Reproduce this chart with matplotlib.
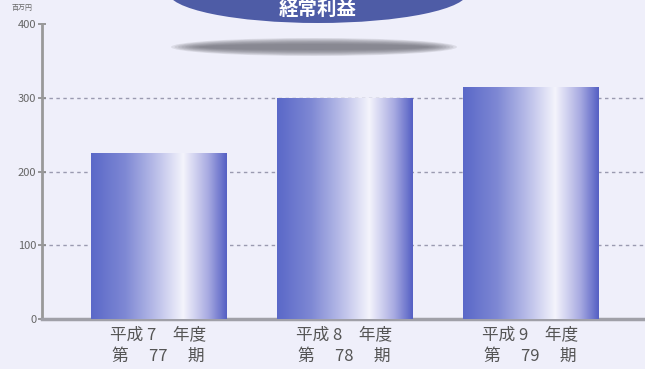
import numpy as np
import matplotlib
matplotlib.use("Agg")
import matplotlib.pyplot as plt
from matplotlib.patches import Ellipse
from matplotlib.colors import LinearSegmentedColormap

plt.rcParams['font.family'] = ['Noto Sans CJK JP', 'DejaVu Sans']

# 経常利益 (百万円)
periods = ["平成 7　年度\n第　 77 　期", "平成 8　年度\n第　 78 　期", "平成 9　年度\n第　 79 　期"]
profit = [225, 300, 315]
yticks = [0, 100, 200, 300, 400]

bg = "#efeffa"
fig = plt.figure(figsize=(6.45, 3.69), dpi=100, facecolor=bg)
ax = fig.add_axes([42/645, 50/369, 603/645, 295/369])
ax.set_facecolor(bg)

# 左から右へのグラデーション (青→白→青)
bar_cmap = LinearSegmentedColormap.from_list(
    "bar", [(0.0, "#5a68c8"), (0.25, "#7e88d4"), (0.47, "#b8bce8"),
            (0.68, "#f4f4fc"), (0.86, "#aaace2"), (1.0, "#5560c4")])
grad = np.linspace(0, 1, 256).reshape(1, -1)

width = 0.726
x = np.arange(len(profit))
bars = ax.bar(x, profit, width=width, color="none", zorder=3)
for b in bars:
    x0, y0 = b.get_x(), b.get_y()
    im = ax.imshow(grad, cmap=bar_cmap, aspect="auto", zorder=3,
                   extent=[x0, x0 + b.get_width(), y0, y0 + b.get_height()])
    im.set_clip_path(b)

ax.set_xlim(-0.626, 2.616)
ax.set_ylim(0, 400)
ax.set_yticks(yticks)
ax.set_yticklabels([str(v) for v in yticks], fontsize=8, color="#666666")
ax.set_xticks(x)
ax.set_xticklabels(periods, fontsize=12, color="#555555", linespacing=1.4)
ax.tick_params(axis="x", length=0, pad=5)
ax.tick_params(axis="y", length=6, width=1.2, color="#888888", pad=1,
               direction="inout")

for v in yticks[1:4]:
    ax.axhline(v, color="#9a9ab0", lw=1.0, ls=(0, (2.5, 2.5)), zorder=1)

for s in ["top", "right"]:
    ax.spines[s].set_visible(False)
ax.spines["left"].set_color("#999999")
ax.spines["left"].set_linewidth(2)
ax.spines["bottom"].set_color("#a0a0a8")
ax.spines["bottom"].set_linewidth(2.5)

fig.text(12/645, 1 - 10/369, "百万円", fontsize=5, color="#666666")

# タイトルの楕円と影
over = fig.add_axes([0, 0, 1, 1], facecolor="none")
over.set_xlim(0, 645)
over.set_ylim(369, 0)
over.axis("off")
for i in range(9):
    over.add_patch(Ellipse((314, 47), 286 - i * 7, 18 - i * 1.5,
                           color="#6a6a72", alpha=0.14, lw=0))
over.add_patch(Ellipse((318, -8), 300, 62, color="#4e5ca6", lw=0))
over.text(318, 9, "経常利益", fontsize=14, fontweight="bold", color="white",
          ha="center", va="center")

fig.savefig("out.png", dpi=100, facecolor=bg)
